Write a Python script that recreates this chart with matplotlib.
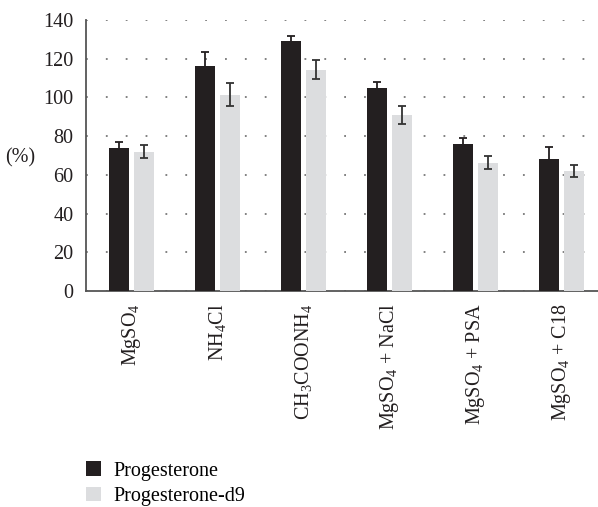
import matplotlib
matplotlib.use('Agg')
import numpy as np
import matplotlib.pyplot as plt

plt.rcParams['font.family'] = ['Liberation Serif', 'DejaVu Serif']
plt.rcParams['mathtext.default'] = 'regular'

categories = ['MgSO$_4$', 'NH$_4$Cl', 'CH$_3$COONH$_4$', 'MgSO$_4$ + NaCl',
              'MgSO$_4$ + PSA', 'MgSO$_4$ + C18']
prog = [74, 116, 129.4, 105, 76, 68.3]
prog_err = [3, 7.5, 2.5, 3, 3, 6]
prog_d9 = [72, 101.5, 114.4, 91, 66.3, 62]
prog_d9_err = [3.3, 6, 4.7, 4.6, 3.3, 3.3]

fig = plt.figure(figsize=(5.98, 5.07), dpi=100)
ax = fig.add_axes([86 / 598, 1 - 291 / 507, 1 - 86 / 598, (291 - 20) / 507])

x = np.arange(len(categories))
w = 0.233
off = 0.145
ax.bar(x - off, prog, w, yerr=prog_err, color='#231f20', label='Progesterone',
       error_kw=dict(ecolor='#231f20', elinewidth=1.3, capsize=3, capthick=1.3),
       zorder=3)
ax.bar(x + off, prog_d9, w, yerr=prog_d9_err, color='#dcdddf',
       label='Progesterone-d9',
       error_kw=dict(ecolor='#333333', elinewidth=1.3, capsize=3, capthick=1.3),
       zorder=3)

ax.set_xlim(-0.53, 5.42)
ax.set_ylim(0, 140)
ax.set_yticks(np.arange(0, 141, 20))
ax.yaxis.grid(True, linestyle=(0, (1, 10)), linewidth=1.3, color='#777777')
ax.set_axisbelow(True)
for s in ['top', 'right']:
    ax.spines[s].set_visible(False)
for s in ['left', 'bottom']:
    ax.spines[s].set_color('#555555')
    ax.spines[s].set_linewidth(1.3)
ax.tick_params(length=0, labelsize=14.5, colors='#231f20', pad=9)
ax.set_xticks(x)
ax.set_xticklabels(categories, rotation=90, va='top')
ax.set_ylabel('(%)', rotation=0, fontsize=14.5, color='#231f20', va='center')
ax.yaxis.set_label_coords(-0.128, 0.49)

fig.legend(loc='upper left', bbox_to_anchor=(68 / 598, 1 - 443 / 507),
           frameon=False, fontsize=14.5, handlelength=0.75, handleheight=0.75,
           handletextpad=0.6, labelspacing=0.3)

fig.savefig('out.png', dpi=100)
